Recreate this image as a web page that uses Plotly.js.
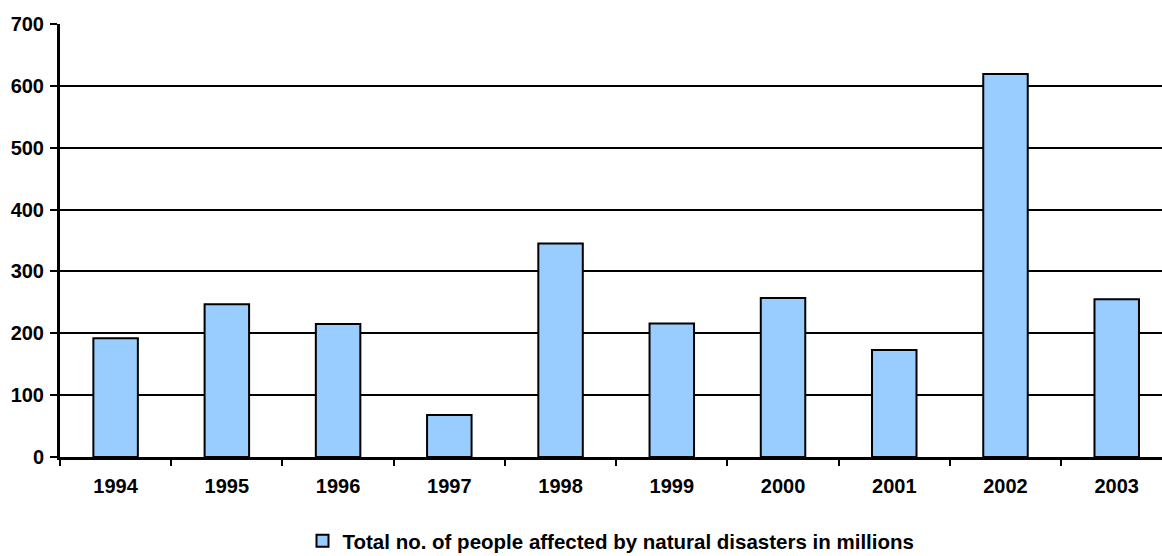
<!DOCTYPE html>
<html>
<head>
<meta charset="utf-8">
<script src="https://cdn.plot.ly/plotly-3.0.1.min.js"></script>
<style>
  html, body { margin: 0; padding: 0; background: #ffffff; }
  #chart { width: 1162px; height: 556px; }
</style>
</head>
<body>
<div id="chart"></div>
<script>
// Years on the category axis
const years = ['1994', '1995', '1996', '1997', '1998', '1999', '2000', '2001', '2002', '2003'];
// People affected by natural disasters, in millions
const affected = [192, 247, 215, 68, 345, 216, 257, 173, 619, 255];
const seriesName = 'Total no. of people affected by natural disasters in millions';

const tickFont = { family: 'Liberation Sans, Arial, sans-serif', size: 20, color: '#000000', weight: 700 };
const legendFont = { family: 'Liberation Sans, Arial, sans-serif', size: 20.5, color: '#000000', weight: 700 };

const trace = {
  type: 'bar',
  x: years,
  y: affected,
  name: seriesName,
  width: 0.4,
  marker: { color: '#99CCFF', line: { color: '#000000', width: 2 } },
  showlegend: true,
  hoverinfo: 'x+y'
};

const layout = {
  width: 1162,
  height: 556,
  paper_bgcolor: '#ffffff',
  plot_bgcolor: '#ffffff',
  margin: { l: 60, r: 0, t: 24, b: 99, autoexpand: false },
  bargap: 0.6,
  showlegend: true,
  legend: {
    orientation: 'h',
    x: 0.5, xanchor: 'center',
    y: -0.194, yanchor: 'middle',
    font: legendFont,
    bgcolor: 'rgba(0,0,0,0)'
  },
  xaxis: {
    type: 'category',
    range: [-0.5, 9.407],
    showline: true, linecolor: '#000000', linewidth: 3,
    ticks: 'outside', tickson: 'boundaries', ticklen: 6, tickwidth: 2, tickcolor: '#000000',
    showgrid: false, zeroline: false,
    tickfont: tickFont,
    ticklabelstandoff: 9
  },
  yaxis: {
    range: [0, 700],
    dtick: 100, tick0: 0,
    showline: true, linecolor: '#000000', linewidth: 3,
    ticks: 'outside', ticklen: 7, tickwidth: 2, tickcolor: '#000000',
    showgrid: true, gridcolor: '#000000', gridwidth: 2,
    zeroline: false,
    tickfont: tickFont,
    ticklabelstandoff: 2
  }
};

Plotly.newPlot('chart', [trace], layout, { staticPlot: true, displayModeBar: false });
</script>
</body>
</html>
